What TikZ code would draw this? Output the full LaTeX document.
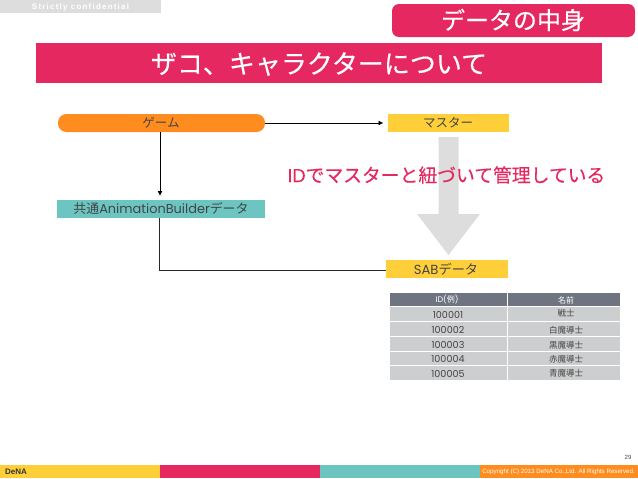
\documentclass[tikz,border=0pt]{standalone}
\usepackage{fontspec}
\setmainfont{Poppins}
\newfontfamily\cjk{Noto Sans CJK JP}
\newfontfamily\cjkb[FakeBold=0.35]{Noto Sans CJK JP}
\newfontfamily\latb[FakeBold=0.3]{Poppins}
\newfontfamily\lat{Liberation Sans}
\usetikzlibrary{arrows.meta}
\definecolor{pinkc}{HTML}{E62860}
\definecolor{orangec}{HTML}{FF8C1E}
\definecolor{yellowc}{HTML}{FFCF3A}
\definecolor{tealc}{HTML}{6CC5C1}
\definecolor{grayc}{HTML}{DDDDDD}
\definecolor{headc}{HTML}{6E7580}
\definecolor{rowc}{HTML}{CDCECF}
\definecolor{ink}{HTML}{444444}
\tikzset{
  x=1pt,y=-1pt,
  boxn/.style={inner sep=0pt,outer sep=0pt,text=ink,font=\fontsize{12.5}{12.5}\selectfont,anchor=center},
  conn/.style={draw=black,line width=0.9pt,-{Latex[length=5pt,width=5pt]}},
  plainconn/.style={draw=black!85,line width=0.9pt},
  hdr/.style={inner sep=0pt,text=white,font=\fontsize{8}{8}\selectfont},
  cell/.style={inner sep=0pt,text=ink,font=\fontsize{9.6}{9.6}\selectfont},
  namecell/.style={inner sep=0pt,text=ink,font=\cjk\fontsize{8.5}{8.5}\selectfont},
}
\begin{document}
\begin{tikzpicture}
\useasboundingbox (0,0) rectangle (638,479);
\fill[white] (0,0) rectangle (638,479);
% top
\fill[grayc] (0,0) rectangle (160.5,13);
\node[inner sep=0pt,text=white] (conf) at (80.5,7) {\lat\bfseries\fontsize{8}{8}\selectfont\addfontfeature{LetterSpace=15}Strictly confidential};
\fill[pinkc,rounded corners=7pt] (392,4) rectangle (635,37);
\node[inner sep=0pt,text=white] (tab) at (513,20) {\cjkb\fontsize{24}{24}\selectfont データの中身};
\fill[pinkc] (36,43) rectangle (602,83);
\node[inner sep=0pt,text=white] (title) at (319,64) {\cjkb\fontsize{26}{26}\selectfont ザコ、キャラクターについて};
% arrow
\fill[grayc] (438.5,137) -- (458.5,137) -- (458.5,214) -- (480,214) -- (448.5,255) -- (417,214) -- (438.5,214) -- cycle;
% boxes
\fill[orangec,rounded corners=8.5pt] (58,114) rectangle (265,132);
\node[boxn] (game) at (161,123) {\cjk ゲーム};
\fill[yellowc] (387.5,114) rectangle (509,132);
\node[boxn] (master) at (448,123) {\cjk マスター};
\fill[tealc] (57,200) rectangle (265,218);
\node[boxn,font=\fontsize{12.9}{12.9}\selectfont] (common) at (161,209) {\cjk 共通{\fontspec{Poppins}AnimationBuilder}データ};
\fill[yellowc] (386,260) rectangle (508,278);
\node[boxn,font=\fontsize{13.2}{13.2}\selectfont] (sab) at (446,269) {SAB{\cjk データ}};
% connectors
\coordinate (gameE) at (265,123);
\coordinate (masterW) at (383.5,123);
\draw[conn] (gameE) -- (masterW);
\coordinate (gameS) at (160,132);
\coordinate (commonN) at (160,196);
\draw[conn] (gameS) -- (commonN);
\coordinate (commonS) at (159,218);
\coordinate (sabW) at (386,270);
\draw[plainconn] (commonS) |- (sabW);
% caption
\node[inner sep=0pt,text=pinkc] (cap) at (446.5,175) {\fontsize{18.8}{18.8}\selectfont {\latb ID}{\cjkb でマスターと紐づいて管理している}};
% table
\fill[headc] (390,293) rectangle (507,306);
\fill[headc] (508,293) rectangle (620,306);
\foreach \t/\b in {307/321,322/336,337/351,352/365,366/380}{
  \fill[rowc] (390,\t) rectangle (507,\b);
  \fill[rowc] (508,\t) rectangle (620,\b);
}
\node[hdr] (h1) at (447,300) {ID({\cjk 例})};
\node[hdr] (h2) at (566,300) {\cjk 名前};
\node[cell] (a1) at (448,314.5) {100001};
\node[namecell] (b1) at (566,313.5) {戦士};
\node[cell] (a2) at (448,330) {100002};
\node[namecell] (b2) at (566,330) {白魔導士};
\node[cell] (a3) at (448,345) {100003};
\node[namecell] (b3) at (566,345) {黒魔導士};
\node[cell] (a4) at (448,359) {100004};
\node[namecell] (b4) at (566,359) {赤魔導士};
\node[cell] (a5) at (448,373.5) {100005};
\node[namecell] (b5) at (566,373.5) {青魔導士};
% footer
\fill[yellowc] (0,465) rectangle (160,478);
\fill[pinkc] (160,465) rectangle (320,478);
\fill[tealc] (320,465) rectangle (480,478);
\fill[orangec] (480,465) rectangle (638,478);
\node[inner sep=0pt,text=black!80] (logo) at (16,472) {\lat\bfseries\fontsize{8}{8}\selectfont DeNA};
\node[inner sep=0pt,text=ink] (page) at (628,457) {\lat\fontsize{6}{6}\selectfont 29};
\node[inner sep=0pt,text=white,anchor=east] (copy) at (635,472) {\lat\fontsize{6.2}{6.2}\selectfont Copyright (C) 2013 DeNA Co.,Ltd. All Rights Reserved.};
\end{tikzpicture}
\end{document}
